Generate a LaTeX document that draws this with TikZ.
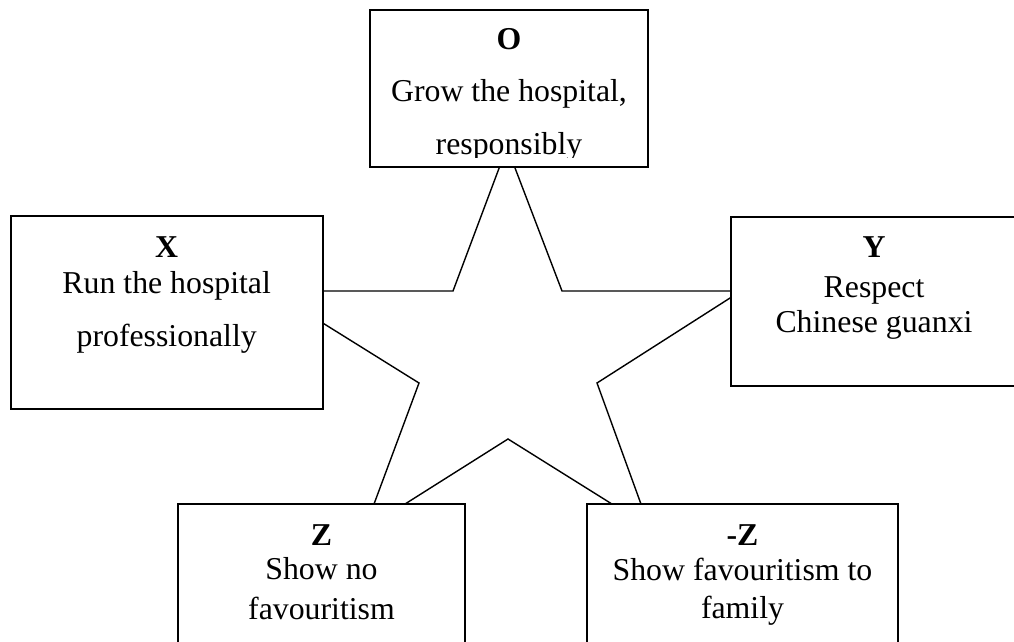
\documentclass[tikz,border=0pt]{standalone}
\usepackage{fontspec}
\setmainfont{Liberation Serif}
\newcommand\diafont{\fontsize{31.8}{38}\selectfont}
\tikzset{
  box/.style={draw, line width=1.8pt, fill=white, rectangle, inner sep=0pt},
  lbl/.style={anchor=base, inner sep=0pt, font=\diafont},
  hd/.style={lbl, font=\diafont\bfseries},
  starline/.style={line width=1.4pt, line join=miter}
}
\begin{document}
\begin{tikzpicture}[x=1pt,y=-1pt]
\useasboundingbox (0,0) rectangle (1014,642);
% star
\coordinate (s1) at (507,147);
\coordinate (s2) at (562,291);
\coordinate (s3) at (741,291);
\coordinate (s4) at (597,383);
\coordinate (s5) at (649.5,527.5);
\coordinate (s6) at (508,439);
\coordinate (s7) at (364.5,529.6);
\coordinate (s8) at (419,383);
\coordinate (s9) at (271.4,291);
\coordinate (s10) at (453,291);
\draw[starline] (s1) -- (s2) -- (s3) -- (s4) -- (s5) -- (s6) -- (s7) -- (s8) -- (s9) -- (s10) -- cycle;
% boxes
\node[box, minimum width=278pt, minimum height=157pt] (O) at (509,88.5) {};
\node[box, minimum width=312pt, minimum height=193pt] (X) at (166.7,312.5) {};
\node[box, minimum width=285pt, minimum height=169pt] (Y) at (873.5,301.5) {};
\node[box, minimum width=287pt, minimum height=156pt] (Z) at (321.5,582) {};
\node[box, minimum width=311pt, minimum height=156pt] (NZ) at (742.5,582) {};
% texts
\begin{scope}
\clip (372,12) rectangle (646,157);
\node[hd] (Ot) at (509,50) {O};
\node[lbl] (O1) at (509,101) {Grow the hospital,};
\node[lbl] (O2) at (509,154) {responsibly};
\end{scope}
\node[hd] (Xt) at (166.7,257) {X};
\node[lbl] (X1) at (166.7,293) {Run the hospital};
\node[lbl] (X2) at (166.7,346) {professionally};
\node[hd] (Yt) at (874,257) {Y};
\node[lbl] (Y1) at (874,297) {Respect};
\node[lbl] (Y2) at (874,332) {Chinese guanxi};
\node[hd] (Zt) at (321.5,545) {Z};
\node[lbl] (Z1) at (321.5,579) {Show no};
\node[lbl] (Z2) at (321.5,619) {favouritism};
\node[hd] (NZt) at (742.5,545) {-Z};
\node[lbl] (NZ1) at (742.5,580) {Show favouritism to};
\node[lbl] (NZ2) at (742.5,618) {family};
\end{tikzpicture}
\end{document}
